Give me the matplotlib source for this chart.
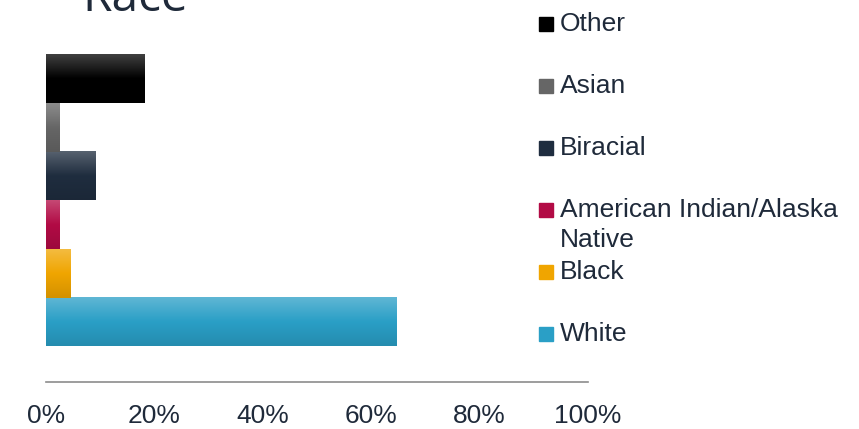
import numpy as np
import matplotlib
matplotlib.use("Agg")
import matplotlib.pyplot as plt
from matplotlib.colors import to_rgb
from matplotlib.patches import Rectangle

# data (bottom to top, as drawn)
categories = ["White", "Black", "American Indian/Alaska\nNative", "Biracial", "Asian", "Other"]
values = [64.6, 4.6, 2.4, 9.2, 2.4, 18.1]
colors = ["#2a9fc6", "#f0a500", "#b20b45", "#1f2d3f", "#666666", "#000000"]
xticks = [0, 20, 40, 60, 80, 100]

text_color = "#1f2a3a"
plt.rcParams["font.family"] = ["Liberation Sans", "DejaVu Sans"]

fig = plt.figure(figsize=(8.59, 4.29), dpi=100)
ax = fig.add_axes([0.0536, 0.1096, 0.6309, 0.8461])

ypos = np.arange(len(categories))
bars = ax.barh(ypos, values, height=1.0, color=colors)


def gradient(c, n=64):
    base = np.array(to_rgb(c))
    top = base + (1 - base) * 0.25
    bot = base * 0.88
    t = np.linspace(0, 1, n)[:, None]
    g = np.where(t < 0.5, top + (base - top) * (t / 0.5), base + (bot - base) * ((t - 0.5) / 0.5))
    return g[:, None, :]


# gradient fill on each bar, like the office chart style
for b, c in zip(bars, colors):
    x0, y0, w, h = b.get_x(), b.get_y(), b.get_width(), b.get_height()
    ax.imshow(gradient(c), extent=[x0, x0 + w, y0, y0 + h], aspect="auto",
              origin="upper", zorder=3, interpolation="bilinear")

ax.set_xlim(0, 100)
ax.set_ylim(-1.24, len(categories) - 0.5 + 0.74)
ax.set_xticks(xticks)
ax.set_xticklabels([f"{v}%" for v in xticks], fontsize=19, color=text_color)
ax.tick_params(axis="x", length=0, pad=16)
ax.set_yticks([])
for s in ["top", "right", "left"]:
    ax.spines[s].set_visible(False)
ax.spines["bottom"].set_color("#8c8c8c")
ax.spines["bottom"].set_linewidth(1.2)

# title (partly cut at the top, as in the source)
fig.text(82 / 859, 1 - 11 / 429, "Race", fontsize=34.5, color=text_color,
         family=["Open Sans", "DejaVu Sans"], va="baseline")

# legend, top to bottom
step = 62.0 / 429
y_first = 1 - 31 / 429
for i, (lab, c) in enumerate(zip(categories[::-1], colors[::-1])):
    yb = y_first - i * step
    fig.patches.append(Rectangle((539 / 859, yb), 14 / 859, 14 / 429,
                                 transform=fig.transFigure, color=c))
    lines = lab.split("\n")
    fig.text(560 / 859, yb, lines[0], fontsize=19, color=text_color, va="baseline")
    if len(lines) > 1:
        fig.text(560 / 859, yb - 30 / 429, lines[1], fontsize=19, color=text_color, va="baseline")

fig.savefig("out.png", dpi=100)
